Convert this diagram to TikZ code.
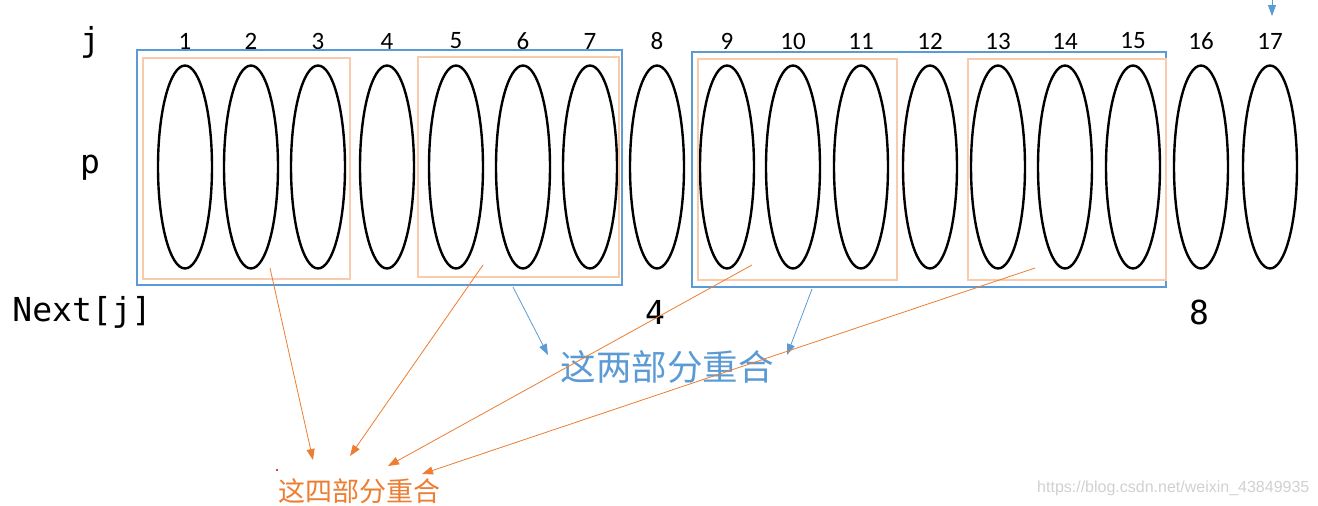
\documentclass[tikz,border=0pt]{standalone}
\usepackage{fontspec}
\newfontfamily\cjk{Noto Sans CJK SC}
\newfontfamily\numfont{Carlito}
\newfontfamily\monof{DejaVu Sans Mono}
\newfontfamily\wmfont{Liberation Sans}
\usetikzlibrary{arrows.meta,shapes.geometric}
\definecolor{bluec}{HTML}{5B9BD5}
\definecolor{orangec}{HTML}{ED7D31}
\definecolor{orangel}{HTML}{F8CBAD}
\begin{document}
\begin{tikzpicture}[x=1pt,y=-1pt,
  oval/.style={draw=black,line width=2.4pt,ellipse,minimum width=54pt,minimum height=203pt,inner sep=0pt},
  num/.style={font=\fontsize{25}{28}\selectfont\numfont,inner sep=0pt},
  mono/.style={font=\fontsize{33}{36}\selectfont\monof,inner sep=0pt},
  bbox/.style={draw=bluec,line width=2pt,inner sep=0pt},
  obox/.style={draw=orangel,line width=2.4pt,inner sep=0pt},
  barrow/.style={draw=bluec,line width=0.8pt,-{Triangle[length=11pt,width=8pt]}},
  oarrow/.style={draw=orangec,line width=0.8pt,-{Triangle[length=11pt,width=8pt]}}
]
\useasboundingbox (0,0) rectangle (1318,506);
\clip (0,0) rectangle (1318,506);
\fill[white] (0,0) rectangle (1318,506);
% ellipses and numbers
\foreach \i/\x in {1/185,2/251,3/318,4/387,5/456,6/523,7/590,8/657,9/727,10/793,11/861,12/930,13/998,14/1065,15/1133,16/1201,17/1270}{
  \node[oval] (e\i) at (\x,167) {};
  \node[num] (n\i) at (\x,41) {\i};
}
% row labels
\node[mono] (lj) at (90,42) {j};
\node[mono] (lp) at (90,168) {p};
\node[mono] (lnext) at (82,312) {Next[j]};
\node[mono] (v4) at (655,312) {4};
\node[mono] (v8) at (1199,312) {8};
% blue boxes
\node[bbox,minimum width=485pt,minimum height=235pt] (B1) at (379.5,167.5) {};
\node[bbox,minimum width=474pt,minimum height=235pt] (B2) at (929,169.5) {};
% orange boxes
\node[obox,minimum width=207pt,minimum height=221pt] (O1) at (246.5,168.5) {};
\node[obox,minimum width=201pt,minimum height=220pt] (O2) at (518.5,167) {};
\node[obox,minimum width=199pt,minimum height=221pt] (O3) at (797.5,169.5) {};
\node[obox,minimum width=198pt,minimum height=221pt] (O4) at (1067,169.5) {};
% texts
\node[font=\fontsize{35.5}{38}\selectfont\cjk,text=bluec,inner sep=0pt] (T2) at (667,367) {这两部分重合};
\node[font=\fontsize{27}{30}\selectfont\cjk,text=orangec,inner sep=0pt,anchor=south west] (T4) at (278,504) {这四部分重合};
\node[font=\fontsize{16}{18}\selectfont\wmfont,text=black!18,inner sep=0pt,anchor=west] (wm) at (1037,488) {https://blog.csdn.net/weixin\_43849935};
% small red dot
\fill[red!80!black] (277,470) circle (1.2pt);
% connector end points
\coordinate (b1s) at (513,287);
\coordinate (b1e) at (548,355);
\coordinate (b2s) at (812,289);
\coordinate (b2e) at (787,355);
\coordinate (o1s) at (270,268);
\coordinate (o1e) at (313,460);
\coordinate (o2s) at (483,265);
\coordinate (o2e) at (350,456);
\coordinate (o3s) at (752,265);
\coordinate (o3e) at (388,466);
\coordinate (o4s) at (1035,268);
\coordinate (o4e) at (422,474);
\coordinate (topa) at (1272,0);
\coordinate (topb) at (1272,16);
\draw[barrow] (b1s) -- (b1e);
\draw[barrow] (b2s) -- (b2e);
\draw[barrow] (topa) -- (topb);
\draw[oarrow] (o1s) -- (o1e);
\draw[oarrow] (o2s) -- (o2e);
\draw[oarrow] (o3s) -- (o3e);
\draw[oarrow] (o4s) -- (o4e);
\end{tikzpicture}
\end{document}
